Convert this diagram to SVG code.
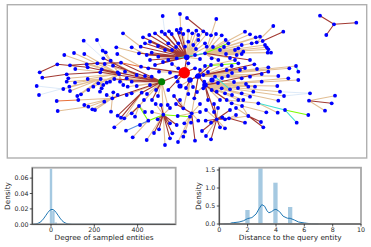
<svg xmlns="http://www.w3.org/2000/svg" width="371" height="247" viewBox="0 0 371 247">
<style>
.e{fill:none;stroke-linecap:round;stroke-width:1.1}
.tan{stroke:#e2bf95}
.dr{stroke:#a23a33}
.fb{stroke:#d9e8f7;stroke-width:0.9}
.cy{stroke:#40e0d0}
.lm{stroke:#7cfc00}
.bl{stroke:#5b8fe0}
.or{stroke:#e8703a}
.n circle{fill:#0000ff}
.bar{fill:#a5c9e1}
.kde{fill:none;stroke:#1f77b4;stroke-width:1;stroke-linejoin:round}
.sp{stroke:#262626;stroke-width:0.8;fill:none}
.fr{fill:none;stroke:#a8a8a8;stroke-width:1.8}
.tk{font-family:"DejaVu Sans",sans-serif;font-size:6.3px;fill:#262626}
.lb{font-family:"DejaVu Sans",sans-serif;font-size:7.3px;fill:#262626}
</style>
<rect width="371" height="247" fill="#ffffff"/>
<g id="graph-panel">
<rect x="7.3" y="4.7" width="359.4" height="153.3" fill="#ffffff" stroke="#b0b0b0" stroke-width="1.4"/>
<g id="connectors">
<path class="e tan" d="M186.7 57.3L179.3 32.7M186.7 57.3L183.3 34M186.7 57.3L188.3 30.7M186.7 57.3L192.3 33.3M186.7 57.3L196.3 30.7M186.7 57.3L198.3 35M186.7 57.3L203.3 31.3M186.7 57.3L206.7 34M186.7 57.3L185 46.7M186.7 57.3L188.3 41.7M186.7 57.3L193.3 45M186.7 57.3L198.3 40M186.7 57.3L205 43.3M186.7 57.3L206.7 46.7M186.7 57.3L195 55M186.7 57.3L168.3 60M186.7 57.3L176.7 58.3M180 14L180.7 29M216.3 19L211 35.3M205 53.3L211 35.3M205 53.3L216 34M205 53.3L221.7 35.3M205 53.3L225.7 40M205 53.3L245 31.7M205 53.3L250 34.3M205 53.3L255.7 37.3M205 53.3L260 36.7M205 53.3L262.7 41M205 53.3L265 45M205 53.3L266.7 47.3M205 53.3L268.3 49.3M205 53.3L271 52.7M205 53.3L267.7 52.7M205 53.3L256.7 42.3M205 53.3L251.7 43.3M205 53.3L241.7 45M205 53.3L238.3 48.3M205 53.3L235 50M205 53.3L236.7 55M205 53.3L241.7 54M205 53.3L243.3 51.7M205 53.3L218.3 60M205 53.3L211.7 58.3M273.3 26L256.7 42.3M119 74L84.3 54M119 74L74 53M119 74L102.7 50.7M119 74L105.7 52.3M119 74L86.7 64.3M119 74L75.3 69M119 74L68.3 78.3M119 74L87.7 79M119 74L98.3 83.3M119 74L93.3 86.7M119 74L103.3 85M119 74L110 81.7M119 74L106.7 82.7M119 74L120 81.7M119 74L123.3 85M119 74L64.3 55M100.7 79L66.7 81.7M100.7 79L69.3 86.7M100.7 79L70 91M100.7 79L63.3 89M100.7 79L75 82.7M100.7 79L77.3 96M100.7 79L81 94.3M100.7 79L88.3 90M100.7 79L101.7 88.3M100.7 79L100 91.7M112.3 98.3L78.3 100M112.3 98.3L84.3 105M112.3 98.3L88.3 106.7M112.3 98.3L92.3 109.3M112.3 98.3L95 110M112.3 98.3L104.3 101.7M112.3 98.3L106.7 95M112.3 98.3L113.3 92.3M112.3 98.3L117.7 95M112.3 98.3L111 111.7M126.7 78.3L161.7 81.7M125 71.7L161.7 81.7M104.7 64L136.7 75M126.7 95L161.7 81.7M131.7 93.3L161.7 81.7M127.7 86.7L161.7 81.7M123 33.3L140.7 46.7M116.3 47.3L139 53.3M117.3 54L141 66.7M110.7 60.7L136.7 75M124.3 118.3L141.7 92.7M135 116.7L139 106M114.3 127.3L139 106M132.7 137.3L148.3 120.7M57.7 111L88.3 106.7M131.7 47.3L146.7 55M100.7 79L161.7 81.7M163.3 114.7L146.7 140M163.3 114.7L155.7 104M191.7 113.3L184.3 123.3M191.7 113.3L191 122.7M191.7 113.3L198.3 120.7M191.7 113.3L185 131.7M191.7 113.3L183.3 136.7M191.7 113.3L177.7 116M216.7 119.3L225 128.3M183.3 108.3L190 80M191.7 113.3L198.3 76M163.3 114.7L161.7 81.7M167.7 105L161.7 81.7M139 106L161.7 81.7M150 85L161.7 81.7M136.7 86L161.7 81.7M177.7 81.7L184.3 72.7M188.3 94L190 80M204.3 81.7L198.3 76M203.3 88.3L205 85M211.7 90L205 85M216.7 91.7L205 85M221.7 88.3L205 85M225 93.3L205 85M230 89.3L205 85M231.7 103.3L205 85M198.3 76L268.3 67.3M198.3 76L289.3 68.3M198.3 76L296 66M198.3 76L241.7 78.3M198.3 76L250 76.7M198.3 76L261.7 74M198.3 76L278.3 76M205 85L288.3 78.3M205 85L298.3 80M205 85L261.7 81.7M205 85L255 86.7M205 85L248.3 86.7M205 85L253.3 91.7M205 85L241.7 93.3M205 85L250 96.7M205 85L243.3 100M205 85L238.3 100M205 85L277.3 86M205 85L280 91.7M205 85L284 96M205 85L278.3 100.7M235 60L211 65M258.3 103.3L226.7 100M266.3 112.3L231.7 103.3M277.7 112.7L258.3 103.3M309 100.7L335 95.7M309 100.7L325 110.7M248.3 116L225 119.3M159 71.7L184.3 72.7M170 72.7L184.3 72.7M178.3 68.3L184.3 72.7M188.3 63.3L184.3 72.7M205 66L198.3 76M221.7 65L198.3 76M226.7 70L198.3 76M231.7 66L198.3 76M136.7 75L161.7 81.7M151.7 76.7L161.7 81.7M196.7 76.7L190 80M203.3 75L198.3 76M215 76.7L205 85M184.3 72.7L190 80M172 64L184.3 72.7M180 86L190 80M193 87L190 80M197 92L205 85M208 72L198.3 76M212 80L205 85M222 78L205 85M228 76L198.3 76M234 82L212 80M238 88L212 80M232 95L205 85M220 100L205 85M200 104L191.7 113.3M206 110L216.7 119.3M214 112L216.7 119.3M236 108L248.3 116M242 106L248.3 116M180 100L183.3 108.3M170 108L163.3 114.7M158 96L161.7 81.7M147 94L161.7 81.7M144 100L139 106M176 47L186.7 57.3M196 49L186.7 57.3M200 59L186.7 57.3M213 47L205 53.3M220 50L205 53.3M226 54L205 53.3M230 58L205 53.3M224 47L205 53.3M232 73L198.3 76M240 70L198.3 76M257 69L198.3 76M246 84L205 85M236 115L229 118.3M206 136L216.7 119.3M178 142L191.7 113.3M165 145L163.3 114.7M140 125L148.3 120.7M145 112L139 106M152 112L163.3 114.7M200 112L191.7 113.3M218 108L216.7 119.3"/>
<path class="e dr" d="M186.7 57.3L149.3 35M186.7 57.3L143 37.3M186.7 57.3L155 33.3M186.7 57.3L161.7 31.7M186.7 57.3L165 34M186.7 57.3L169 31.3M186.7 57.3L171.7 34M186.7 57.3L140.7 46.7M186.7 57.3L145 43.3M186.7 57.3L150 41.7M186.7 57.3L168.3 43.3M186.7 57.3L146.7 55M186.7 57.3L151.7 52.7M186.7 57.3L158.3 56.7M186.7 57.3L176.7 30M186.7 57.3L178.3 43.3M186.7 57.3L139 53.3M186.7 57.3L184.3 72.7M180.7 29L186.7 57.3M187 18L206.7 34M205 53.3L186.7 57.3M250 60L205 53.3M283.3 31.7L262.7 41M39.7 72.3L57.3 64.3L87.7 67.3L119 74M42.3 77.7L66.7 74.3L100.3 72.3L161.7 81.7M70 65.3L97.3 63.3L121 62.7L161.7 81.7M101.7 69.3L161.7 81.7M117.7 72.3L161.7 81.7M114.3 79L161.7 81.7M113 65.7L161.7 81.7M112.3 98.3L161.7 81.7M131.7 81.7L161.7 81.7M103.3 58.3L136.7 75M121 117.7L141.7 92.7M117.7 115.7L141.7 92.7M131.7 113.3L139 106M163.3 114.7L170 123.3M163.3 114.7L176.7 125M163.3 114.7L159 129.3M163.3 114.7L170 138.3M163.3 114.7L172.3 133.3M163.3 114.7L157.7 119.3M163.3 114.7L161 105M191.7 113.3L195 140.7M191.7 113.3L183.3 108.3M216.7 119.3L205.7 120.7M216.7 119.3L211 122.7M216.7 119.3L211 139.3M216.7 119.3L220 127.3M216.7 119.3L222.3 117.3M216.7 119.3L225 119.3M216.7 119.3L229 118.3M216.7 119.3L205 85M168.3 90L184.3 72.7M194.3 98.3L198.3 76M226.7 100L205 85M141.7 92.7L161.7 81.7M268.3 71.7L205 85M254.3 64.3L203.3 75M309 100.7L331.7 103.3M245 122.7L229 118.3M261 122L248.3 116M263.3 127.3L248.3 116M141 66.7L184.3 72.7M148.3 68.3L184.3 72.7M155 65L186.7 57.3M195 68.3L184.3 72.7M211 65L198.3 76M145 76L161.7 81.7M184.3 72.7L161.7 81.7M190 80L198.3 76L205 85M334 24.3L320 15.7M334 24.3L326.3 35M334 24.3L356.3 22.7M176 77L184.3 72.7M186 88L190 80M200 70L198.3 76M218 83L205 85M214 104L216.7 119.3M208 100L205 85M174 96L183.3 108.3M176 104L191.7 113.3M152 100L161.7 81.7M156 90L161.7 81.7M150 60L186.7 57.3M163 62L186.7 57.3M165 50L186.7 57.3M158 46L186.7 57.3M172 50L186.7 57.3M245 68L198.3 76M202 131L216.7 119.3M154 133L163.3 114.7M230 110L216.7 119.3"/>
<path class="e fb" d="M36.7 86L63.3 89M39 95L69.3 86.7M83.7 40.7L103.3 58.3M97 40L102.7 50.7M162.7 16L165 34M310 93.3L280 91.7M310 93.3L284 96"/>
<path class="e cy" d="M296 66L298.3 71.7M215 76.7L230 89.3M176.7 58.3L205 53.3M285 110L258.3 103.3M285 110L296.7 122.7"/>
<path class="e lm" d="M205 53.3L228.3 43.3M205 66L238.3 63.3M285 110L308.3 115M139 106L148.3 120.7L163.3 114.7L190 116.7"/>
<path class="e bl" d="M126 130.7L148.3 120.7"/>
<path class="e or" d="M56.7 101L78.3 100M121 62.7L141 66.7"/>
</g>
<g id="entity-nodes" class="n">
<circle cx="83.7" cy="40.7" r="1.9"/><circle cx="97" cy="40" r="1.9"/><circle cx="123" cy="33.3" r="1.9"/><circle cx="64.3" cy="55" r="1.9"/><circle cx="74" cy="53" r="1.9"/><circle cx="84.3" cy="54" r="1.9"/><circle cx="102.7" cy="50.7" r="1.9"/><circle cx="105.7" cy="52.3" r="1.9"/><circle cx="116.3" cy="47.3" r="1.9"/><circle cx="117.3" cy="54" r="1.9"/><circle cx="131.7" cy="47.3" r="1.9"/><circle cx="103.3" cy="58.3" r="1.9"/><circle cx="110.7" cy="60.7" r="1.9"/><circle cx="121" cy="62.7" r="1.9"/><circle cx="57.3" cy="64.3" r="1.9"/><circle cx="70" cy="65.3" r="1.9"/><circle cx="86.7" cy="64.3" r="1.9"/><circle cx="87.7" cy="67.3" r="1.9"/><circle cx="97.3" cy="63.3" r="1.9"/><circle cx="104.7" cy="64" r="1.9"/><circle cx="113" cy="65.7" r="1.9"/><circle cx="39.7" cy="72.3" r="1.9"/><circle cx="75.3" cy="69" r="1.9"/><circle cx="101.7" cy="69.3" r="1.9"/><circle cx="100.3" cy="72.3" r="1.9"/><circle cx="117.7" cy="72.3" r="1.9"/><circle cx="119" cy="74" r="1.9"/><circle cx="125" cy="71.7" r="1.9"/><circle cx="66.7" cy="74.3" r="1.9"/><circle cx="42.3" cy="77.7" r="1.9"/><circle cx="68.3" cy="78.3" r="1.9"/><circle cx="87.7" cy="79" r="1.9"/><circle cx="100.7" cy="79" r="1.9"/><circle cx="114.3" cy="79" r="1.9"/><circle cx="126.7" cy="78.3" r="1.9"/>
<circle cx="36.7" cy="86" r="1.9"/><circle cx="39" cy="95" r="1.9"/><circle cx="56.7" cy="101" r="1.9"/><circle cx="57.7" cy="111" r="1.9"/><circle cx="66.7" cy="81.7" r="1.9"/><circle cx="63.3" cy="89" r="1.9"/><circle cx="70" cy="91" r="1.9"/><circle cx="69.3" cy="86.7" r="1.9"/><circle cx="75" cy="82.7" r="1.9"/><circle cx="77.3" cy="96" r="1.9"/><circle cx="81" cy="94.3" r="1.9"/><circle cx="78.3" cy="100" r="1.9"/><circle cx="84.3" cy="105" r="1.9"/><circle cx="88.3" cy="106.7" r="1.9"/><circle cx="92.3" cy="109.3" r="1.9"/><circle cx="95" cy="110" r="1.9"/><circle cx="88.3" cy="90" r="1.9"/><circle cx="93.3" cy="86.7" r="1.9"/><circle cx="98.3" cy="83.3" r="1.9"/><circle cx="101.7" cy="88.3" r="1.9"/><circle cx="103.3" cy="85" r="1.9"/><circle cx="106.7" cy="82.7" r="1.9"/><circle cx="110" cy="81.7" r="1.9"/><circle cx="100" cy="91.7" r="1.9"/><circle cx="106.7" cy="95" r="1.9"/><circle cx="113.3" cy="92.3" r="1.9"/><circle cx="117.7" cy="95" r="1.9"/><circle cx="126.7" cy="95" r="1.9"/><circle cx="131.7" cy="93.3" r="1.9"/><circle cx="104.3" cy="101.7" r="1.9"/><circle cx="112.3" cy="98.3" r="1.9"/><circle cx="111" cy="111.7" r="1.9"/><circle cx="117.7" cy="115.7" r="1.9"/><circle cx="121" cy="117.7" r="1.9"/><circle cx="124.3" cy="118.3" r="1.9"/><circle cx="131.7" cy="113.3" r="1.9"/><circle cx="135" cy="116.7" r="1.9"/><circle cx="114.3" cy="127.3" r="1.9"/><circle cx="126" cy="130.7" r="1.9"/><circle cx="132.7" cy="137.3" r="1.9"/><circle cx="120" cy="81.7" r="1.9"/><circle cx="123.3" cy="85" r="1.9"/><circle cx="127.7" cy="86.7" r="1.9"/><circle cx="131.7" cy="81.7" r="1.9"/>
<circle cx="136.7" cy="86" r="1.9"/><circle cx="141.7" cy="92.7" r="1.9"/><circle cx="150" cy="85" r="1.9"/><circle cx="168.3" cy="90" r="1.9"/><circle cx="177.7" cy="81.7" r="1.9"/><circle cx="188.3" cy="94" r="1.9"/><circle cx="194.3" cy="98.3" r="1.9"/><circle cx="204.3" cy="81.7" r="1.9"/><circle cx="203.3" cy="88.3" r="1.9"/><circle cx="211.7" cy="90" r="1.9"/><circle cx="216.7" cy="91.7" r="1.9"/><circle cx="221.7" cy="88.3" r="1.9"/><circle cx="225" cy="93.3" r="1.9"/><circle cx="230" cy="89.3" r="1.9"/><circle cx="226.7" cy="100" r="1.9"/><circle cx="231.7" cy="103.3" r="1.9"/><circle cx="139" cy="106" r="1.9"/><circle cx="155.7" cy="104" r="1.9"/><circle cx="161" cy="105" r="1.9"/><circle cx="167.7" cy="105" r="1.9"/><circle cx="148.3" cy="120.7" r="1.9"/><circle cx="157.7" cy="119.3" r="1.9"/><circle cx="163.3" cy="114.7" r="1.9"/><circle cx="177.7" cy="116" r="1.9"/><circle cx="190" cy="116.7" r="1.9"/><circle cx="183.3" cy="108.3" r="1.9"/><circle cx="191.7" cy="113.3" r="1.9"/><circle cx="170" cy="123.3" r="1.9"/><circle cx="176.7" cy="125" r="1.9"/><circle cx="184.3" cy="123.3" r="1.9"/><circle cx="191" cy="122.7" r="1.9"/><circle cx="198.3" cy="120.7" r="1.9"/><circle cx="205.7" cy="120.7" r="1.9"/><circle cx="211" cy="122.7" r="1.9"/><circle cx="216.7" cy="119.3" r="1.9"/><circle cx="222.3" cy="117.3" r="1.9"/><circle cx="225" cy="119.3" r="1.9"/><circle cx="229" cy="118.3" r="1.9"/><circle cx="159" cy="129.3" r="1.9"/><circle cx="170" cy="138.3" r="1.9"/><circle cx="185" cy="131.7" r="1.9"/><circle cx="195" cy="140.7" r="1.9"/><circle cx="211" cy="139.3" r="1.9"/><circle cx="220" cy="127.3" r="1.9"/><circle cx="225" cy="128.3" r="1.9"/><circle cx="146.7" cy="140" r="1.9"/><circle cx="172.3" cy="133.3" r="1.9"/><circle cx="183.3" cy="136.7" r="1.9"/>
<circle cx="162.7" cy="16" r="1.9"/><circle cx="180" cy="14" r="1.9"/><circle cx="187" cy="18" r="1.9"/><circle cx="216.3" cy="19" r="1.9"/><circle cx="180.7" cy="29" r="1.9"/><circle cx="149.3" cy="35" r="1.9"/><circle cx="143" cy="37.3" r="1.9"/><circle cx="155" cy="33.3" r="1.9"/><circle cx="161.7" cy="31.7" r="1.9"/><circle cx="165" cy="34" r="1.9"/><circle cx="169" cy="31.3" r="1.9"/><circle cx="171.7" cy="34" r="1.9"/><circle cx="176.7" cy="30" r="1.9"/><circle cx="179.3" cy="32.7" r="1.9"/><circle cx="183.3" cy="34" r="1.9"/><circle cx="188.3" cy="30.7" r="1.9"/><circle cx="192.3" cy="33.3" r="1.9"/><circle cx="196.3" cy="30.7" r="1.9"/><circle cx="198.3" cy="35" r="1.9"/><circle cx="203.3" cy="31.3" r="1.9"/><circle cx="206.7" cy="34" r="1.9"/><circle cx="211" cy="35.3" r="1.9"/><circle cx="216" cy="34" r="1.9"/><circle cx="221.7" cy="35.3" r="1.9"/><circle cx="225.7" cy="40" r="1.9"/><circle cx="228.3" cy="43.3" r="1.9"/><circle cx="140.7" cy="46.7" r="1.9"/><circle cx="139" cy="53.3" r="1.9"/><circle cx="145" cy="43.3" r="1.9"/><circle cx="150" cy="41.7" r="1.9"/><circle cx="168.3" cy="43.3" r="1.9"/><circle cx="178.3" cy="43.3" r="1.9"/><circle cx="185" cy="46.7" r="1.9"/><circle cx="188.3" cy="41.7" r="1.9"/><circle cx="193.3" cy="45" r="1.9"/><circle cx="198.3" cy="40" r="1.9"/><circle cx="205" cy="43.3" r="1.9"/><circle cx="206.7" cy="46.7" r="1.9"/><circle cx="146.7" cy="55" r="1.9"/><circle cx="151.7" cy="52.7" r="1.9"/><circle cx="158.3" cy="56.7" r="1.9"/><circle cx="168.3" cy="60" r="1.9"/><circle cx="176.7" cy="58.3" r="1.9"/><circle cx="195" cy="55" r="1.9"/><circle cx="205" cy="53.3" r="1.9"/><circle cx="211.7" cy="58.3" r="1.9"/><circle cx="218.3" cy="60" r="1.9"/><circle cx="141" cy="66.7" r="1.9"/><circle cx="148.3" cy="68.3" r="1.9"/><circle cx="155" cy="65" r="1.9"/><circle cx="159" cy="71.7" r="1.9"/><circle cx="170" cy="72.7" r="1.9"/><circle cx="178.3" cy="68.3" r="1.9"/><circle cx="188.3" cy="63.3" r="1.9"/><circle cx="195" cy="68.3" r="1.9"/><circle cx="205" cy="66" r="1.9"/><circle cx="211" cy="65" r="1.9"/><circle cx="221.7" cy="65" r="1.9"/><circle cx="226.7" cy="70" r="1.9"/><circle cx="231.7" cy="66" r="1.9"/><circle cx="136.7" cy="75" r="1.9"/><circle cx="145" cy="76" r="1.9"/><circle cx="151.7" cy="76.7" r="1.9"/><circle cx="196.7" cy="76.7" r="1.9"/><circle cx="203.3" cy="75" r="1.9"/><circle cx="215" cy="76.7" r="1.9"/>
<circle cx="172" cy="64" r="1.9"/><circle cx="176" cy="77" r="1.9"/><circle cx="186" cy="88" r="1.9"/><circle cx="193" cy="87" r="1.9"/><circle cx="197" cy="92" r="1.9"/><circle cx="200" cy="70" r="1.9"/><circle cx="208" cy="72" r="1.9"/><circle cx="218" cy="83" r="1.9"/><circle cx="222" cy="78" r="1.9"/><circle cx="228" cy="76" r="1.9"/><circle cx="234" cy="82" r="1.9"/><circle cx="238" cy="88" r="1.9"/><circle cx="232" cy="95" r="1.9"/><circle cx="220" cy="100" r="1.9"/><circle cx="214" cy="104" r="1.9"/><circle cx="208" cy="100" r="1.9"/><circle cx="200" cy="104" r="1.9"/><circle cx="206" cy="110" r="1.9"/><circle cx="214" cy="112" r="1.9"/><circle cx="236" cy="108" r="1.9"/><circle cx="242" cy="106" r="1.9"/><circle cx="174" cy="96" r="1.9"/><circle cx="180" cy="100" r="1.9"/><circle cx="170" cy="108" r="1.9"/><circle cx="176" cy="104" r="1.9"/><circle cx="158" cy="96" r="1.9"/><circle cx="152" cy="100" r="1.9"/><circle cx="147" cy="94" r="1.9"/><circle cx="144" cy="100" r="1.9"/><circle cx="156" cy="90" r="1.9"/><circle cx="150" cy="60" r="1.9"/><circle cx="163" cy="62" r="1.9"/><circle cx="165" cy="50" r="1.9"/><circle cx="158" cy="46" r="1.9"/><circle cx="172" cy="50" r="1.9"/><circle cx="176" cy="47" r="1.9"/><circle cx="196" cy="49" r="1.9"/><circle cx="200" cy="59" r="1.9"/><circle cx="213" cy="47" r="1.9"/><circle cx="220" cy="50" r="1.9"/><circle cx="226" cy="54" r="1.9"/><circle cx="230" cy="58" r="1.9"/><circle cx="224" cy="47" r="1.9"/><circle cx="232" cy="73" r="1.9"/><circle cx="240" cy="70" r="1.9"/><circle cx="245" cy="68" r="1.9"/><circle cx="257" cy="69" r="1.9"/><circle cx="246" cy="84" r="1.9"/><circle cx="236" cy="115" r="1.9"/><circle cx="202" cy="131" r="1.9"/><circle cx="206" cy="136" r="1.9"/><circle cx="178" cy="142" r="1.9"/><circle cx="165" cy="145" r="1.9"/><circle cx="154" cy="133" r="1.9"/><circle cx="140" cy="125" r="1.9"/><circle cx="145" cy="112" r="1.9"/><circle cx="152" cy="112" r="1.9"/><circle cx="200" cy="112" r="1.9"/><circle cx="218" cy="108" r="1.9"/><circle cx="230" cy="110" r="1.9"/>
<circle cx="186.7" cy="57.3" r="2.8"/><circle cx="190" cy="80" r="2.8"/><circle cx="198.3" cy="76" r="2.8"/><circle cx="205" cy="85" r="2.8"/><circle cx="180" cy="86" r="2.6"/><circle cx="212" cy="80" r="2.6"/>
<circle cx="273.3" cy="26" r="1.9"/><circle cx="283.3" cy="31.7" r="1.9"/><circle cx="245" cy="31.7" r="1.9"/><circle cx="250" cy="34.3" r="1.9"/><circle cx="255.7" cy="37.3" r="1.9"/><circle cx="260" cy="36.7" r="1.9"/><circle cx="262.7" cy="41" r="1.9"/><circle cx="265" cy="45" r="1.9"/><circle cx="266.7" cy="47.3" r="1.9"/><circle cx="268.3" cy="49.3" r="1.9"/><circle cx="271" cy="52.7" r="1.9"/><circle cx="267.7" cy="52.7" r="1.9"/><circle cx="256.7" cy="42.3" r="1.9"/><circle cx="251.7" cy="43.3" r="1.9"/><circle cx="241.7" cy="45" r="1.9"/><circle cx="238.3" cy="48.3" r="1.9"/><circle cx="235" cy="50" r="1.9"/><circle cx="236.7" cy="55" r="1.9"/><circle cx="241.7" cy="54" r="1.9"/><circle cx="243.3" cy="51.7" r="1.9"/><circle cx="250" cy="60" r="1.9"/><circle cx="254.3" cy="64.3" r="1.9"/><circle cx="238.3" cy="63.3" r="1.9"/><circle cx="235" cy="60" r="1.9"/><circle cx="296" cy="66" r="1.9"/><circle cx="298.3" cy="71.7" r="1.9"/><circle cx="289.3" cy="68.3" r="1.9"/><circle cx="268.3" cy="67.3" r="1.9"/><circle cx="268.3" cy="71.7" r="1.9"/><circle cx="278.3" cy="76" r="1.9"/><circle cx="261.7" cy="74" r="1.9"/><circle cx="250" cy="76.7" r="1.9"/><circle cx="241.7" cy="78.3" r="1.9"/><circle cx="288.3" cy="78.3" r="1.9"/>
<circle cx="334" cy="24.3" r="1.9"/><circle cx="320" cy="15.7" r="1.9"/><circle cx="326.3" cy="35" r="1.9"/><circle cx="356.3" cy="22.7" r="1.9"/>
<circle cx="277.3" cy="86" r="1.9"/><circle cx="280" cy="91.7" r="1.9"/><circle cx="284" cy="96" r="1.9"/><circle cx="310" cy="93.3" r="1.9"/><circle cx="309" cy="100.7" r="1.9"/><circle cx="335" cy="95.7" r="1.9"/><circle cx="331.7" cy="103.3" r="1.9"/><circle cx="325" cy="110.7" r="1.9"/><circle cx="278.3" cy="100.7" r="1.9"/><circle cx="285" cy="110" r="1.9"/><circle cx="308.3" cy="115" r="1.9"/><circle cx="296.7" cy="122.7" r="1.9"/><circle cx="258.3" cy="103.3" r="1.9"/><circle cx="266.3" cy="112.3" r="1.9"/><circle cx="277.7" cy="112.7" r="1.9"/><circle cx="245" cy="122.7" r="1.9"/><circle cx="261" cy="122" r="1.9"/><circle cx="263.3" cy="127.3" r="1.9"/><circle cx="248.3" cy="116" r="1.9"/><circle cx="241.7" cy="93.3" r="1.9"/><circle cx="243.3" cy="100" r="1.9"/><circle cx="238.3" cy="100" r="1.9"/><circle cx="250" cy="96.7" r="1.9"/><circle cx="253.3" cy="91.7" r="1.9"/><circle cx="255" cy="86.7" r="1.9"/><circle cx="248.3" cy="86.7" r="1.9"/><circle cx="261.7" cy="81.7" r="1.9"/><circle cx="298.3" cy="80" r="1.9"/>
</g>
<g id="green-entity"><circle cx="161.7" cy="81.7" r="3.5" fill="#008000"/></g>
<g id="query-entity"><circle cx="184.3" cy="72.7" r="5.7" fill="#ff0000"/></g>
</g>
<g id="degree-plot">
<rect class="bar" x="49.8" y="168.8" width="2.4" height="55.5"/>
<rect class="bar" x="52.2" y="211" width="2.4" height="13.3"/>
<rect class="bar" x="54.6" y="222.5" width="2.4" height="1.8"/>
<polyline class="kde" points="32,224.3 34,224.1 36,223.9 38,223.3 40,222.3 42,220.6 44,218.1 46,215.2 48,212.3 50,210.1 52,209.3 54,210.1 56,212.3 58,215.2 60,218.1 62,220.6 64,222.3 66,223.3 68,223.9 70,224.1 72,224.3 170,224.3"/>
<rect class="fr" x="32.3" y="167.7" width="143.4" height="56.6"/>
<path class="sp" d="M32.3 167.7V224.3H175.7M29.8 224.3H32.3M29.8 208.9H32.3M29.8 193.5H32.3M29.8 178.1H32.3M51 224.3V226.8M94.3 224.3V226.8M137.6 224.3V226.8"/>
<text class="tk" x="28.6" y="226.6" text-anchor="end">0.00</text>
<text class="tk" x="28.6" y="211.2" text-anchor="end">0.02</text>
<text class="tk" x="28.6" y="195.8" text-anchor="end">0.04</text>
<text class="tk" x="28.6" y="180.4" text-anchor="end">0.06</text>
<text class="tk" x="51" y="232.2" text-anchor="middle">0</text>
<text class="tk" x="94.3" y="232.2" text-anchor="middle">200</text>
<text class="tk" x="137.6" y="232.2" text-anchor="middle">400</text>
<text class="lb" x="104" y="240" text-anchor="middle">Degree of sampled entities</text>
<text class="lb" transform="translate(9.6,196) rotate(-90)" text-anchor="middle">Density</text>
</g>
<g id="distance-plot">
<rect class="bar" x="231.2" y="222.2" width="4.3" height="1.8"/>
<rect class="bar" x="245.3" y="210" width="4.3" height="14"/>
<rect class="bar" x="258.3" y="168.3" width="4.3" height="55.7"/>
<rect class="bar" x="273.3" y="182.7" width="4.3" height="41.3"/>
<rect class="bar" x="288" y="207" width="4.3" height="17"/>
<rect class="bar" x="301.6" y="222.8" width="4.3" height="1.2"/>
<polyline class="kde" points="223.5,224 229.2,223.6 233.5,222.7 239.1,222 243.4,220.8 247.6,218.6 251.9,217.6 256.1,214 259,208.8 261.8,204.6 264.6,206.2 267,210.8 268.9,212.8 271.7,211.6 274,209.8 276,209.3 279.5,211.6 283.1,216.2 287.3,218.2 290.2,218.3 294.4,220 298.6,222 304.3,223 311.4,223.8 318.5,224"/>
<rect class="fr" x="219.3" y="167.7" width="141.7" height="56.3"/>
<path class="sp" d="M219.3 167.7V224H361M216.8 224H219.3M216.8 206H219.3M216.8 188H219.3M216.8 170H219.3M219.3 224V226.5M247.6 224V226.5M276 224V226.5M304.3 224V226.5M332.7 224V226.5M361 224V226.5"/>
<text class="tk" x="215.3" y="226.3" text-anchor="end">0.0</text>
<text class="tk" x="215.3" y="208.3" text-anchor="end">0.5</text>
<text class="tk" x="215.3" y="190.3" text-anchor="end">1.0</text>
<text class="tk" x="215.3" y="172.3" text-anchor="end">1.5</text>
<text class="tk" x="219.3" y="232.2" text-anchor="middle">0</text>
<text class="tk" x="247.6" y="232.2" text-anchor="middle">2</text>
<text class="tk" x="276" y="232.2" text-anchor="middle">4</text>
<text class="tk" x="304.3" y="232.2" text-anchor="middle">6</text>
<text class="tk" x="332.7" y="232.2" text-anchor="middle">8</text>
<text class="tk" x="361" y="232.2" text-anchor="middle">10</text>
<text class="lb" x="290.2" y="240" text-anchor="middle">Distance to the query entity</text>
<text class="lb" transform="translate(200.8,196) rotate(-90)" text-anchor="middle">Density</text>
</g>
</svg>
